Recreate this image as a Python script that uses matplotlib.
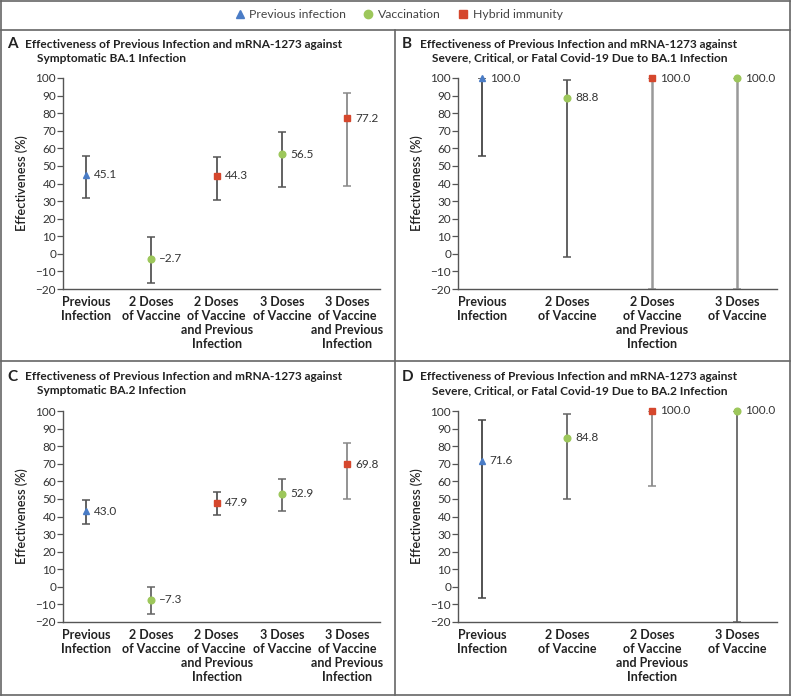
import matplotlib.pyplot as plt
from matplotlib.lines import Line2D

plt.rcParams['font.family'] = ['Lato', 'DejaVu Sans']

# categories
cats5 = ['Previous\nInfection', '2 Doses\nof Vaccine', '2 Doses\nof Vaccine\nand Previous\nInfection',
         '3 Doses\nof Vaccine', '3 Doses\nof Vaccine\nand Previous\nInfection']
cats4 = cats5[:4]
groups5 = ['prev', 'vacc', 'hybrid', 'vacc', 'hybrid']
groups4 = groups5[:4]

# panel values: estimate, lower, upper
A_est = [45.1, -2.7, 44.3, 56.5, 77.2]
A_lo = [31.5, -16.8, 30.5, 38.1, 38.3]
A_hi = [55.8, 9.7, 55.3, 69.2, 91.3]

B_est = [100.0, 88.8, 100.0, 100.0]
B_lo = [55.6, -1.8, -20.0, -20.0]
B_hi = [100.0, 98.6, 100.0, 100.0]

C_est = [43.0, -7.3, 47.9, 52.9, 69.8]
C_lo = [36.0, -15.4, 40.8, 43.0, 50.1]
C_hi = [49.3, 0.1, 54.2, 61.1, 81.6]

D_est = [71.6, 84.8, 100.0, 100.0]
D_lo = [-6.1, 49.7, 57.3, -20.0]
D_hi = [94.9, 98.1, 100.0, 100.0]

title_top = 'Effectiveness of Previous Infection and mRNA-1273 against'
title_sub = {
    'A': 'Symptomatic BA.1 Infection',
    'B': 'Severe, Critical, or Fatal Covid-19 Due to BA.1 Infection',
    'C': 'Symptomatic BA.2 Infection',
    'D': 'Severe, Critical, or Fatal Covid-19 Due to BA.2 Infection',
}

styles = {'prev': ('^', '#4a7cc6', 5),
          'vacc': ('o', '#9dc75b', 4.8),
          'hybrid': ('s', '#d5472d', 4.6)}
labels = {'prev': 'Previous infection', 'vacc': 'Vaccination', 'hybrid': 'Hybrid immunity'}

W, H = 791, 696
fig = plt.figure(figsize=(W / 100, H / 100), dpi=100)


def box(l, t, r, b):
    return [l / W, 1 - b / H, (r - l) / W, (b - t) / H]


def panel(rect, letter, cats, groups, est, lo, hi, xlim, barcols):
    ax = fig.add_axes(box(*rect))
    x = list(range(len(cats)))
    unit = (xlim[1] - xlim[0]) / (rect[2] - rect[0])  # data units per pixel
    for i in x:
        lw = 1.8 if barcols[i] == '#999999' else 1.3
        ax.errorbar(x[i], est[i], yerr=[[est[i] - lo[i]], [hi[i] - est[i]]], fmt='none',
                    ecolor=barcols[i], elinewidth=lw, capsize=3, capthick=1.1, zorder=2)
        m, c, s = styles[groups[i]]
        ax.plot(x[i], est[i], marker=m, color=c, markersize=s, linestyle='none', zorder=3, clip_on=False)
        ax.text(x[i] + 8 * unit, est[i], f'{est[i]:.1f}'.replace('-', '\u2013'),
                va='center', ha='left', fontsize=8.5, color='#333333')
    ax.set_xlim(*xlim)
    ax.set_ylim(-20, 100)
    ax.set_yticks(range(-20, 101, 10))
    ax.set_xticks(x)
    ax.set_xticklabels(cats, fontsize=9, fontweight='bold', color='#222222', linespacing=1.2)
    ax.tick_params(axis='x', length=0, pad=5)
    ax.tick_params(axis='y', length=4, width=0.9, color='#555555', labelsize=8.5, labelcolor='#333333', pad=1)
    for sp in ['top', 'right']:
        ax.spines[sp].set_visible(False)
    for sp in ['left', 'bottom']:
        ax.spines[sp].set_color('#555555')
        ax.spines[sp].set_linewidth(1.0)
    ax.set_ylabel('Effectiveness (%)', fontsize=9.2, fontweight='semibold', color='#222222', labelpad=5)
    l, t = rect[0], rect[1]
    fig.text((l - 56) / W, 1 - (t - 34) / H, letter, fontsize=11, fontweight='bold', color='#222222', va='center')
    fig.text((l - 38) / W, 1 - (t - 34) / H, title_top, fontsize=8.6, fontweight='bold',
             color='#222222', va='center')
    fig.text((l - 26) / W, 1 - (t - 20) / H, title_sub[letter], fontsize=8.6, fontweight='bold',
             color='#222222', va='center')
    return ax


panel((63, 78, 380, 289), 'A', cats5, groups5, A_est, A_lo, A_hi, (-0.35, 4.5),
      ['#555555'] * 4 + ['#8a8a8a'])
panel((458, 78, 777, 289), 'B', cats4, groups4, B_est, B_lo, B_hi, (-0.28, 3.47),
      ['#444444', '#555555', '#999999', '#999999'])
panel((63, 411, 380, 622), 'C', cats5, groups5, C_est, C_lo, C_hi, (-0.35, 4.5),
      ['#555555', '#666666', '#555555', '#666666', '#8a8a8a'])
panel((458, 411, 777, 622), 'D', cats4, groups4, D_est, D_lo, D_hi, (-0.28, 3.47),
      ['#444444', '#666666', '#8a8a8a', '#666666'])

# legend
handles = [Line2D([], [], marker=styles[k][0], color=styles[k][1], linestyle='none', markersize=6)
           for k in ['prev', 'vacc', 'hybrid']]
fig.legend(handles, [labels[k] for k in ['prev', 'vacc', 'hybrid']], loc='center',
           bbox_to_anchor=(398 / W, 1 - 15 / H), ncol=3, frameon=False, fontsize=8.8,
           labelcolor='#444444', handletextpad=0.3, columnspacing=1.3, handlelength=1.0)

# panel frame lines
fc = '#666666'
for (x0, y0, x1, y1) in [(1, 1, 790, 1), (1, 695, 790, 695), (1, 1, 1, 695), (790, 1, 790, 695),
                         (1, 30, 790, 30), (1, 361, 790, 361), (395, 30, 395, 695)]:
    fig.add_artist(Line2D([x0 / W, x1 / W], [1 - y0 / H, 1 - y1 / H], color=fc, linewidth=1.2))

fig.savefig('out.png', dpi=100)
